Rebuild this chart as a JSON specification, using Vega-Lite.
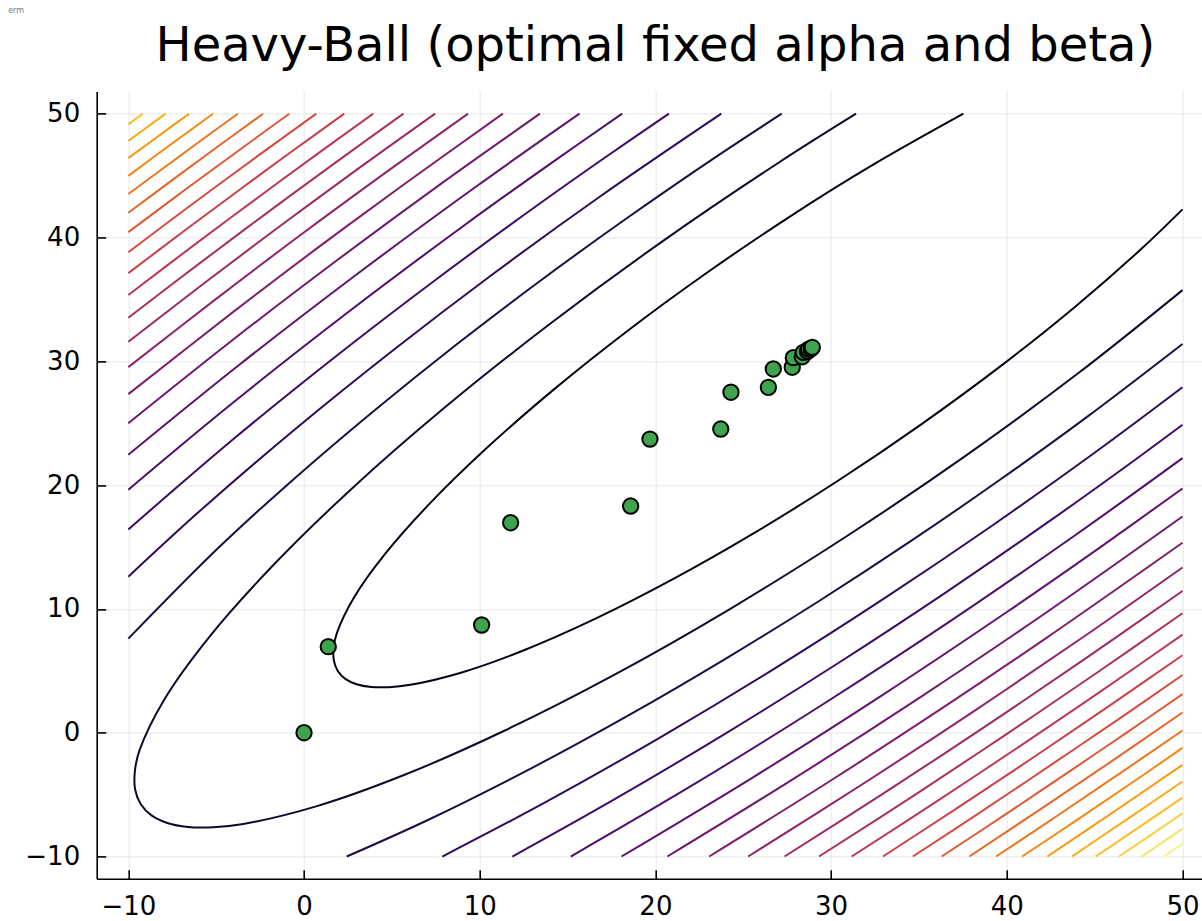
{
  "$schema": "https://vega.github.io/schema/vega-lite/v6.json",
  "width": 1105.3,
  "height": 787.4,
  "autosize": "none",
  "padding": {"left": 96.7, "top": 91.4, "right": 0, "bottom": 42.2},
  "background": "white",
  "title": {
    "text": "Heavy-Ball (optimal fixed alpha and beta)",
    "font": "DejaVu Sans",
    "fontSize": 48,
    "fontWeight": "normal",
    "color": "black",
    "anchor": "middle",
    "frame": "group",
    "dx": 6,
    "offset": -65
  },
  "config": {
    "view": {"stroke": null},
    "axis": {
      "domainColor": "black",
      "domainWidth": 1.6,
      "tickColor": "black",
      "tickWidth": 1.6,
      "tickSize": -9,
      "labelFont": "DejaVu Sans",
      "labelFontSize": 26,
      "labelColor": "black",
      "gridColor": "#e6e6e6",
      "gridWidth": 1,
      "labelPadding": 24
    }
  },
  "datasets": {
    "contours": [
      {"level":1,"part":"1","step":0,"x":37.53,"y":50},
      {"level":1,"part":"1","step":1,"x":32.37,"y":45.86},
      {"level":1,"part":"1","step":2,"x":27.61,"y":41.65},
      {"level":1,"part":"1","step":3,"x":22.89,"y":37.11},
      {"level":1,"part":"1","step":4,"x":18.35,"y":32.39},
      {"level":1,"part":"1","step":5,"x":14.14,"y":27.63},
      {"level":1,"part":"1","step":6,"x":10.38,"y":22.97},
      {"level":1,"part":"1","step":7,"x":7.19,"y":18.56},
      {"level":1,"part":"1","step":8,"x":4.66,"y":14.52},
      {"level":1,"part":"1","step":9,"x":2.87,"y":10.98},
      {"level":1,"part":"1","step":10,"x":1.87,"y":8.05},
      {"level":1,"part":"1","step":11,"x":1.68,"y":6.84},
      {"level":1,"part":"1","step":12,"x":1.70,"y":5.82},
      {"level":1,"part":"1","step":13,"x":1.92,"y":4.99},
      {"level":1,"part":"1","step":14,"x":2.35,"y":4.35},
      {"level":1,"part":"1","step":15,"x":2.99,"y":3.92},
      {"level":1,"part":"1","step":16,"x":3.82,"y":3.70},
      {"level":1,"part":"1","step":17,"x":4.84,"y":3.68},
      {"level":1,"part":"1","step":18,"x":6.05,"y":3.87},
      {"level":1,"part":"1","step":19,"x":8.98,"y":4.87},
      {"level":1,"part":"1","step":20,"x":12.52,"y":6.66},
      {"level":1,"part":"1","step":21,"x":16.56,"y":9.19},
      {"level":1,"part":"1","step":22,"x":20.97,"y":12.38},
      {"level":1,"part":"1","step":23,"x":25.63,"y":16.14},
      {"level":1,"part":"1","step":24,"x":30.39,"y":20.35},
      {"level":1,"part":"1","step":25,"x":35.11,"y":24.89},
      {"level":1,"part":"1","step":26,"x":39.65,"y":29.61},
      {"level":1,"part":"1","step":27,"x":43.86,"y":34.37},
      {"level":1,"part":"1","step":28,"x":47.62,"y":39.03},
      {"level":1,"part":"1","step":29,"x":50,"y":42.27},

      {"level":2,"part":"2","step":0,"x":31.42,"y":50},
      {"level":2,"part":"2","step":1,"x":27.03,"y":46.06},
      {"level":2,"part":"2","step":2,"x":20.36,"y":39.65},
      {"level":2,"part":"2","step":3,"x":13.95,"y":32.97},
      {"level":2,"part":"2","step":4,"x":7.99,"y":26.24},
      {"level":2,"part":"2","step":5,"x":2.67,"y":19.65},
      {"level":2,"part":"2","step":6,"x":-1.84,"y":13.40},
      {"level":2,"part":"2","step":7,"x":-5.42,"y":7.69},
      {"level":2,"part":"2","step":8,"x":-7.95,"y":2.69},
      {"level":2,"part":"2","step":9,"x":-9.37,"y":-1.45},
      {"level":2,"part":"2","step":10,"x":-9.63,"y":-3.16},
      {"level":2,"part":"2","step":11,"x":-9.61,"y":-4.61},
      {"level":2,"part":"2","step":12,"x":-9.29,"y":-5.78},
      {"level":2,"part":"2","step":13,"x":-8.68,"y":-6.68},
      {"level":2,"part":"2","step":14,"x":-7.78,"y":-7.29},
      {"level":2,"part":"2","step":15,"x":-6.61,"y":-7.61},
      {"level":2,"part":"2","step":16,"x":-5.16,"y":-7.63},
      {"level":2,"part":"2","step":17,"x":-3.45,"y":-7.37},
      {"level":2,"part":"2","step":18,"x":0.69,"y":-5.95},
      {"level":2,"part":"2","step":19,"x":5.69,"y":-3.42},
      {"level":2,"part":"2","step":20,"x":11.40,"y":0.16},
      {"level":2,"part":"2","step":21,"x":17.65,"y":4.67},
      {"level":2,"part":"2","step":22,"x":24.24,"y":9.99},
      {"level":2,"part":"2","step":23,"x":30.97,"y":15.95},
      {"level":2,"part":"2","step":24,"x":37.65,"y":22.36},
      {"level":2,"part":"2","step":25,"x":44.06,"y":29.03},
      {"level":2,"part":"2","step":26,"x":50,"y":35.75},

      {"level":3,"part":"3u","step":0,"x":-10,"y":7.60},
      {"level":3,"part":"3u","step":1,"x":-4.90,"y":14.90},
      {"level":3,"part":"3u","step":2,"x":-0.54,"y":20.54},
      {"level":3,"part":"3u","step":3,"x":3.99,"y":26.01},
      {"level":3,"part":"3u","step":4,"x":8.66,"y":31.34},
      {"level":3,"part":"3u","step":5,"x":13.47,"y":36.53},
      {"level":3,"part":"3u","step":6,"x":18.41,"y":41.59},
      {"level":3,"part":"3u","step":7,"x":23.47,"y":46.53},
      {"level":3,"part":"3u","step":8,"x":27.19,"y":50},
      {"level":3,"part":"3l","step":0,"x":2.43,"y":-10},
      {"level":3,"part":"3l","step":1,"x":7.05,"y":-7.05},
      {"level":3,"part":"3l","step":2,"x":12.90,"y":-2.90},
      {"level":3,"part":"3l","step":3,"x":18.54,"y":1.46},
      {"level":3,"part":"3l","step":4,"x":24.01,"y":5.99},
      {"level":3,"part":"3l","step":5,"x":29.34,"y":10.66},
      {"level":3,"part":"3l","step":6,"x":34.53,"y":15.47},
      {"level":3,"part":"3l","step":7,"x":39.59,"y":20.41},
      {"level":3,"part":"3l","step":8,"x":44.53,"y":25.47},
      {"level":3,"part":"3l","step":9,"x":50,"y":31.40},

      {"level":4,"part":"4u","step":0,"x":-10,"y":12.60},
      {"level":4,"part":"4u","step":1,"x":-5.92,"y":17.92},
      {"level":4,"part":"4u","step":2,"x":-0.51,"y":24.51},
      {"level":4,"part":"4u","step":3,"x":5.09,"y":30.91},
      {"level":4,"part":"4u","step":4,"x":10.85,"y":37.15},
      {"level":4,"part":"4u","step":5,"x":16.77,"y":43.23},
      {"level":4,"part":"4u","step":6,"x":23.75,"y":50},
      {"level":4,"part":"4l","step":0,"x":7.87,"y":-10},
      {"level":4,"part":"4l","step":1,"x":13.67,"y":-5.67},
      {"level":4,"part":"4l","step":2,"x":20.33,"y":-0.33},
      {"level":4,"part":"4l","step":3,"x":26.80,"y":5.20},
      {"level":4,"part":"4l","step":4,"x":33.09,"y":10.91},
      {"level":4,"part":"4l","step":5,"x":39.22,"y":16.78},
      {"level":4,"part":"4l","step":6,"x":45.19,"y":22.81},
      {"level":4,"part":"4l","step":7,"x":50,"y":27.90},

      {"level":5,"part":"5u","step":0,"x":-10,"y":16.42},
      {"level":5,"part":"5u","step":1,"x":-3.88,"y":23.88},
      {"level":5,"part":"5u","step":2,"x":1.71,"y":30.29},
      {"level":5,"part":"5u","step":3,"x":7.46,"y":36.55},
      {"level":5,"part":"5u","step":4,"x":13.34,"y":42.66},
      {"level":5,"part":"5u","step":5,"x":17.34,"y":46.66},
      {"level":5,"part":"5u","step":6,"x":20.77,"y":50},
      {"level":5,"part":"5l","step":0,"x":11.86,"y":-10},
      {"level":5,"part":"5l","step":1,"x":17.51,"y":-5.51},
      {"level":5,"part":"5l","step":2,"x":24.03,"y":-0.03},
      {"level":5,"part":"5l","step":3,"x":30.39,"y":5.61},
      {"level":5,"part":"5l","step":4,"x":36.60,"y":11.40},
      {"level":5,"part":"5l","step":5,"x":42.67,"y":17.33},
      {"level":5,"part":"5l","step":6,"x":46.64,"y":21.36},
      {"level":5,"part":"5l","step":7,"x":50,"y":24.88},

      {"level":6,"part":"6u","step":0,"x":-10,"y":19.63},
      {"level":6,"part":"6u","step":1,"x":-4.33,"y":26.33},
      {"level":6,"part":"6u","step":2,"x":2.28,"y":33.72},
      {"level":6,"part":"6u","step":3,"x":9.07,"y":40.93},
      {"level":6,"part":"6u","step":4,"x":14.03,"y":45.97},
      {"level":6,"part":"6u","step":5,"x":18.11,"y":50},
      {"level":6,"part":"6l","step":0,"x":15.18,"y":-10},
      {"level":6,"part":"6l","step":1,"x":22.18,"y":-4.18},
      {"level":6,"part":"6l","step":2,"x":29.63,"y":2.38},
      {"level":6,"part":"6l","step":3,"x":36.89,"y":9.11},
      {"level":6,"part":"6l","step":4,"x":43.97,"y":16.03},
      {"level":6,"part":"6l","step":5,"x":50,"y":22.18},

      {"level":7,"part":"7u","step":0,"x":-10,"y":22.45},
      {"level":7,"part":"7u","step":1,"x":-3.70,"y":29.70},
      {"level":7,"part":"7u","step":2,"x":2.99,"y":37.01},
      {"level":7,"part":"7u","step":3,"x":9.84,"y":44.16},
      {"level":7,"part":"7u","step":4,"x":15.68,"y":50},
      {"level":7,"part":"7l","step":0,"x":18.07,"y":-10},
      {"level":7,"part":"7l","step":1,"x":25.58,"y":-3.58},
      {"level":7,"part":"7l","step":2,"x":32.94,"y":3.06},
      {"level":7,"part":"7l","step":3,"x":40.13,"y":9.87},
      {"level":7,"part":"7l","step":4,"x":45.17,"y":14.83},
      {"level":7,"part":"7l","step":5,"x":50,"y":19.73},

      {"level":8,"part":"8u","step":0,"x":-10,"y":25.00},
      {"level":8,"part":"8u","step":1,"x":-3.90,"y":31.90},
      {"level":8,"part":"8u","step":2,"x":1.86,"y":38.14},
      {"level":8,"part":"8u","step":3,"x":7.73,"y":44.27},
      {"level":8,"part":"8u","step":4,"x":13.43,"y":50},
      {"level":8,"part":"8l","step":0,"x":20.68,"y":-10},
      {"level":8,"part":"8l","step":1,"x":27.79,"y":-3.79},
      {"level":8,"part":"8l","step":2,"x":35.11,"y":2.90},
      {"level":8,"part":"8l","step":3,"x":42.27,"y":9.73},
      {"level":8,"part":"8l","step":4,"x":50,"y":17.46},

      {"level":9,"part":"9u","step":0,"x":-10,"y":27.35},
      {"level":9,"part":"9u","step":1,"x":-4.01,"y":34.01},
      {"level":9,"part":"9u","step":2,"x":0.81,"y":39.20},
      {"level":9,"part":"9u","step":3,"x":5.70,"y":44.30},
      {"level":9,"part":"9u","step":4,"x":11.32,"y":50},
      {"level":9,"part":"9l","step":0,"x":23.06,"y":-10},
      {"level":9,"part":"9l","step":1,"x":29.92,"y":-3.92},
      {"level":9,"part":"9l","step":2,"x":36.17,"y":1.84},
      {"level":9,"part":"9l","step":3,"x":42.30,"y":7.70},
      {"level":9,"part":"9l","step":4,"x":50,"y":15.34},

      {"level":10,"part":"10u","step":0,"x":-10,"y":29.53},
      {"level":10,"part":"10u","step":1,"x":-5.02,"y":35.02},
      {"level":10,"part":"10u","step":2,"x":-0.20,"y":40.20},
      {"level":10,"part":"10u","step":3,"x":4.70,"y":45.30},
      {"level":10,"part":"10u","step":4,"x":9.34,"y":50},
      {"level":10,"part":"10l","step":0,"x":25.28,"y":-10},
      {"level":10,"part":"10l","step":1,"x":31.98,"y":-3.98},
      {"level":10,"part":"10l","step":2,"x":38.20,"y":1.81},
      {"level":10,"part":"10l","step":3,"x":44.31,"y":7.69},
      {"level":10,"part":"10l","step":4,"x":50,"y":13.35},

      {"level":11,"part":"11u","step":0,"x":-10,"y":31.58},
      {"level":11,"part":"11u","step":1,"x":-5.50,"y":36.50},
      {"level":11,"part":"11u","step":2,"x":-1.15,"y":41.15},
      {"level":11,"part":"11u","step":3,"x":3.26,"y":45.74},
      {"level":11,"part":"11u","step":4,"x":7.46,"y":50},
      {"level":11,"part":"11l","step":0,"x":27.35,"y":-10},
      {"level":11,"part":"11l","step":1,"x":32.94,"y":-4.94},
      {"level":11,"part":"11l","step":2,"x":38.63,"y":0.37},
      {"level":11,"part":"11l","step":3,"x":44.24,"y":5.76},
      {"level":11,"part":"11l","step":4,"x":50,"y":11.45},

      {"level":12,"part":"12u","step":0,"x":-10,"y":33.52},
      {"level":12,"part":"12u","step":1,"x":-5.93,"y":37.93},
      {"level":12,"part":"12u","step":2,"x":-2.05,"y":42.05},
      {"level":12,"part":"12u","step":3,"x":1.87,"y":46.13},
      {"level":12,"part":"12u","step":4,"x":5.66,"y":50},
      {"level":12,"part":"12l","step":0,"x":29.31,"y":-10},
      {"level":12,"part":"12l","step":1,"x":34.90,"y":-4.90},
      {"level":12,"part":"12l","step":2,"x":40.05,"y":-0.05},
      {"level":12,"part":"12l","step":3,"x":45.15,"y":4.86},
      {"level":12,"part":"12l","step":4,"x":50,"y":9.65},

      {"level":13,"part":"13u","step":0,"x":-10,"y":35.36},
      {"level":13,"part":"13u","step":1,"x":-6.32,"y":39.32},
      {"level":13,"part":"13u","step":2,"x":-2.92,"y":42.92},
      {"level":13,"part":"13u","step":3,"x":0.51,"y":46.49},
      {"level":13,"part":"13u","step":4,"x":3.94,"y":50},
      {"level":13,"part":"13l","step":0,"x":31.17,"y":-10},
      {"level":13,"part":"13l","step":1,"x":35.77,"y":-5.77},
      {"level":13,"part":"13l","step":2,"x":40.92,"y":-0.92},
      {"level":13,"part":"13l","step":3,"x":45.51,"y":3.50},
      {"level":13,"part":"13l","step":4,"x":50,"y":7.92},

      {"level":14,"part":"14u","step":0,"x":-10,"y":37.12},
      {"level":14,"part":"14u","step":1,"x":-6.68,"y":40.68},
      {"level":14,"part":"14u","step":2,"x":-3.76,"y":43.76},
      {"level":14,"part":"14u","step":3,"x":-0.82,"y":46.82},
      {"level":14,"part":"14u","step":4,"x":2.29,"y":50},
      {"level":14,"part":"14l","step":0,"x":32.95,"y":-10},
      {"level":14,"part":"14l","step":1,"x":37.13,"y":-6.13},
      {"level":14,"part":"14l","step":2,"x":41.76,"y":-1.76},
      {"level":14,"part":"14l","step":3,"x":45.83,"y":2.17},
      {"level":14,"part":"14l","step":4,"x":50,"y":6.26},

      {"level":15,"part":"15u","step":0,"x":-10,"y":38.81},
      {"level":15,"part":"15u","step":1,"x":-6.52,"y":42.52},
      {"level":15,"part":"15u","step":2,"x":-2.61,"y":46.61},
      {"level":15,"part":"15u","step":3,"x":0.70,"y":50},
      {"level":15,"part":"15l","step":0,"x":34.65,"y":-10},
      {"level":15,"part":"15l","step":1,"x":38.46,"y":-6.46},
      {"level":15,"part":"15l","step":2,"x":42.56,"y":-2.56},
      {"level":15,"part":"15l","step":3,"x":46.64,"y":1.36},
      {"level":15,"part":"15l","step":4,"x":50,"y":4.66},

      {"level":16,"part":"16u","step":0,"x":-10,"y":40.43},
      {"level":16,"part":"16u","step":1,"x":-6.81,"y":43.81},
      {"level":16,"part":"16u","step":2,"x":-3.87,"y":46.87},
      {"level":16,"part":"16u","step":3,"x":-0.84,"y":50},
      {"level":16,"part":"16l","step":0,"x":36.29,"y":-10},
      {"level":16,"part":"16l","step":1,"x":40.27,"y":-6.27},
      {"level":16,"part":"16l","step":2,"x":43.34,"y":-3.34},
      {"level":16,"part":"16l","step":3,"x":46.91,"y":0.09},
      {"level":16,"part":"16l","step":4,"x":50,"y":3.12},

      {"level":17,"part":"17u","step":0,"x":-10,"y":42.00},
      {"level":17,"part":"17u","step":1,"x":-7.08,"y":45.08},
      {"level":17,"part":"17u","step":2,"x":-4.63,"y":47.63},
      {"level":17,"part":"17u","step":3,"x":-2.33,"y":50},
      {"level":17,"part":"17l","step":0,"x":37.87,"y":-10},
      {"level":17,"part":"17l","step":1,"x":42.05,"y":-6.05},
      {"level":17,"part":"17l","step":2,"x":46.14,"y":-2.14},
      {"level":17,"part":"17l","step":3,"x":50,"y":1.63},

      {"level":18,"part":"18u","step":0,"x":-10,"y":43.51},
      {"level":18,"part":"18u","step":1,"x":-6.83,"y":46.83},
      {"level":18,"part":"18u","step":2,"x":-3.77,"y":50},
      {"level":18,"part":"18l","step":0,"x":39.39,"y":-10},
      {"level":18,"part":"18l","step":1,"x":42.79,"y":-6.79},
      {"level":18,"part":"18l","step":2,"x":46.36,"y":-3.36},
      {"level":18,"part":"18l","step":3,"x":50,"y":0.18},

      {"level":19,"part":"19u","step":0,"x":-10,"y":44.98},
      {"level":19,"part":"19u","step":1,"x":-7.55,"y":47.55},
      {"level":19,"part":"19u","step":2,"x":-5.18,"y":50},
      {"level":19,"part":"19l","step":0,"x":40.87,"y":-10},
      {"level":19,"part":"19l","step":1,"x":44.02,"y":-7.02},
      {"level":19,"part":"19l","step":2,"x":47.08,"y":-4.08},
      {"level":19,"part":"19l","step":3,"x":50,"y":-1.23},

      {"level":20,"part":"20u","step":0,"x":-10,"y":46.41},
      {"level":20,"part":"20u","step":1,"x":-8.24,"y":48.24},
      {"level":20,"part":"20u","step":2,"x":-6.54,"y":50},
      {"level":20,"part":"20l","step":0,"x":42.31,"y":-10},
      {"level":20,"part":"20l","step":1,"x":46.24,"y":-6.24},
      {"level":20,"part":"20l","step":2,"x":50,"y":-2.60},

      {"level":21,"part":"21u","step":0,"x":-10,"y":47.79},
      {"level":21,"part":"21u","step":1,"x":-8.92,"y":48.92},
      {"level":21,"part":"21u","step":2,"x":-7.88,"y":50},
      {"level":21,"part":"21l","step":0,"x":43.71,"y":-10},
      {"level":21,"part":"21l","step":1,"x":46.92,"y":-6.92},
      {"level":21,"part":"21l","step":2,"x":50,"y":-3.94},

      {"level":22,"part":"22u","step":0,"x":-10,"y":49.14},
      {"level":22,"part":"22u","step":1,"x":-9.18,"y":50},
      {"level":22,"part":"22l","step":0,"x":45.06,"y":-10},
      {"level":22,"part":"22l","step":1,"x":47.58,"y":-7.58},
      {"level":22,"part":"22l","step":2,"x":50,"y":-5.24},

      {"level":23,"part":"23l","step":0,"x":46.38,"y":-10},
      {"level":23,"part":"23l","step":1,"x":48.23,"y":-8.23},
      {"level":23,"part":"23l","step":2,"x":50,"y":-6.51},

      {"level":24,"part":"24l","step":0,"x":47.68,"y":-10},
      {"level":24,"part":"24l","step":1,"x":50,"y":-7.76},

      {"level":25,"part":"25l","step":0,"x":48.94,"y":-10},
      {"level":25,"part":"25l","step":1,"x":50,"y":-8.97}
    ],
    "iterates": [
      {"iter":0,"x":0,"y":0},
      {"iter":1,"x":1.38,"y":6.95},
      {"iter":2,"x":10.11,"y":8.70},
      {"iter":3,"x":11.76,"y":16.96},
      {"iter":4,"x":18.59,"y":18.31},
      {"iter":5,"x":19.69,"y":23.72},
      {"iter":6,"x":23.72,"y":24.53},
      {"iter":7,"x":24.30,"y":27.50},
      {"iter":8,"x":26.43,"y":27.90},
      {"iter":9,"x":26.71,"y":29.38},
      {"iter":10,"x":27.79,"y":29.52},
      {"iter":11,"x":27.85,"y":30.29},
      {"iter":12,"x":28.36,"y":30.37},
      {"iter":13,"x":28.42,"y":30.72},
      {"iter":14,"x":28.66,"y":30.80},
      {"iter":15,"x":28.72,"y":30.98},
      {"iter":16,"x":28.86,"y":31.02},
      {"iter":17,"x":28.93,"y":31.13}
    ]
  },
  "layer": [
    {
      "data": {"name": "contours"},
      "mark": {"type": "line", "strokeWidth": 2, "interpolate": "catmull-rom", "clip": true},
      "encoding": {
        "x": {
          "field": "x", "type": "quantitative",
          "scale": {"domain": [-11.8, 51.11], "nice": false, "zero": false},
          "axis": {"values": [-10, 0, 10, 20, 30, 40, 50], "title": null, "labelBaseline": "top", "labelPadding": 24}
        },
        "y": {
          "field": "y", "type": "quantitative",
          "scale": {"domain": [-11.8, 51.8], "nice": false, "zero": false},
          "axis": {
            "values": [-10, 0, 10, 20, 30, 40, 50],
            "title": "erm",
            "titleFont": "DejaVu Sans",
            "titleFontSize": 8,
            "titleFontWeight": "normal",
            "titleColor": "#777777",
            "titleAngle": 0,
            "titleAlign": "left",
            "titleBaseline": "top",
            "titleX": -89,
            "titleY": -85,
            "labelPadding": 26
          }
        },
        "color": {
          "field": "level", "type": "quantitative",
          "scale": {"scheme": "inferno", "domain": [0, 25.86]},
          "legend": null
        },
        "detail": {"field": "part", "type": "nominal"},
        "order": {"field": "step", "type": "quantitative"}
      }
    },
    {
      "data": {"name": "iterates"},
      "mark": {"type": "point", "shape": "circle", "filled": true, "size": 235, "fill": "#3EA44E", "stroke": "black", "strokeWidth": 2, "opacity": 1},
      "encoding": {
        "x": {"field": "x", "type": "quantitative"},
        "y": {"field": "y", "type": "quantitative"},
        "order": {"field": "iter", "type": "quantitative"}
      }
    }
  ]
}
